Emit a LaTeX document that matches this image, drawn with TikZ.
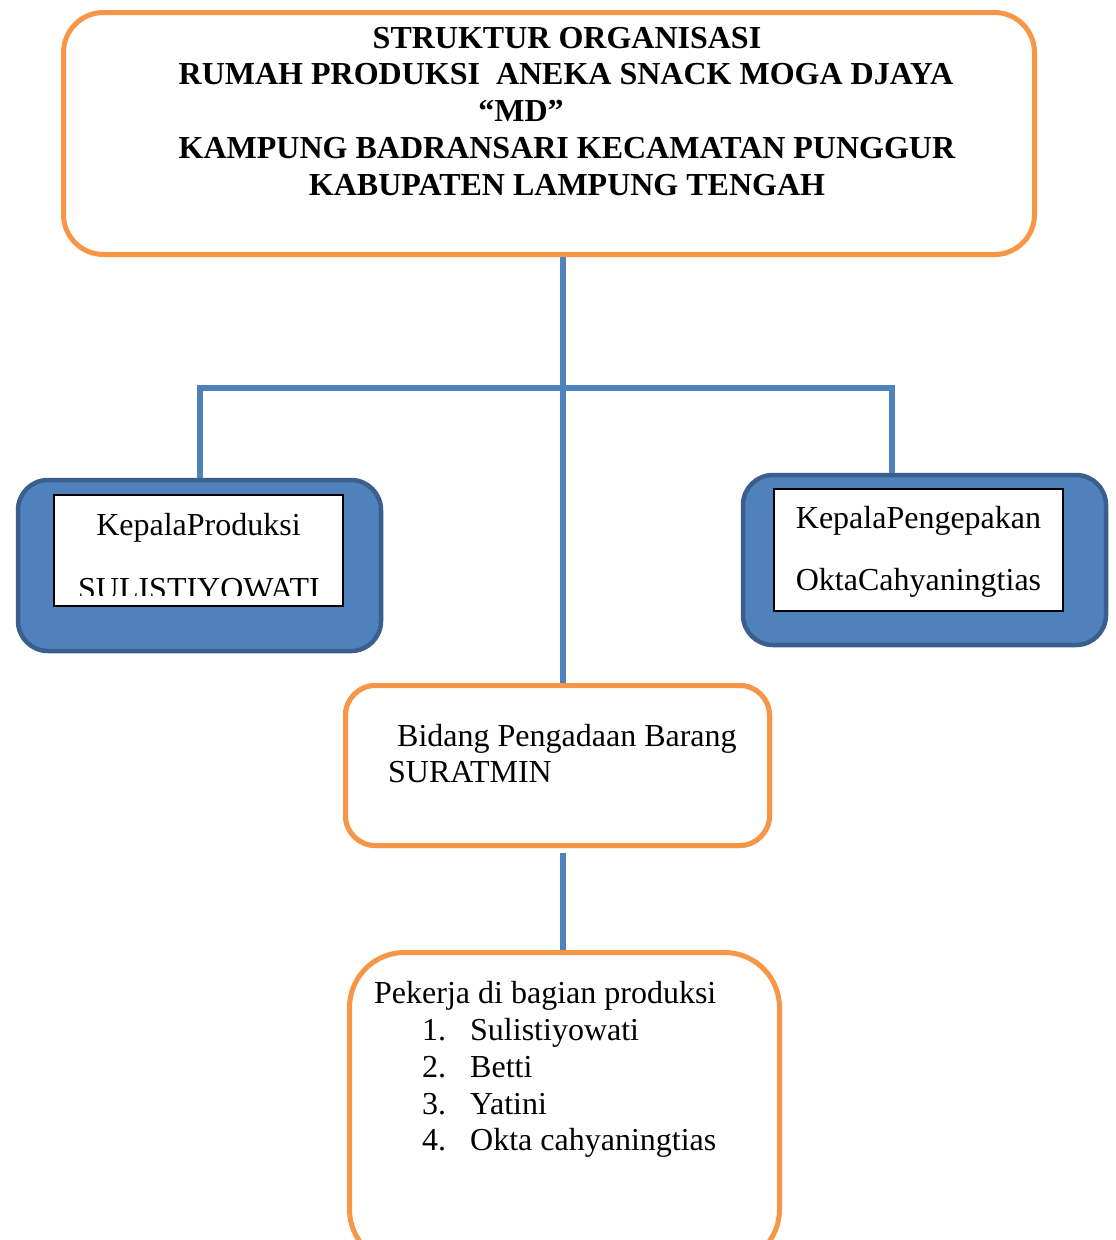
\documentclass[tikz,border=0pt]{standalone}
\usepackage{fontspec}
\setmainfont{Liberation Serif}
\definecolor{orgc}{HTML}{F79646}
\definecolor{bluec}{HTML}{4F81BD}
\definecolor{bluedark}{HTML}{3A5F8C}
\begin{document}
\begin{tikzpicture}[x=1pt,y=-1pt,
  txt/.style={inner sep=0pt, font=\fontsize{32}{37}\selectfont},
  ttl/.style={inner sep=0pt, font=\fontsize{32}{37}\selectfont\bfseries, anchor=base},
  orangebox/.style={draw=orgc, fill=white, line width=5pt, inner sep=0pt},
  bluebox/.style={draw=bluedark, fill=bluec, line width=4.5pt, inner sep=0pt, rounded corners=30pt},
  whitebox/.style={draw=black, fill=white, line width=1.2pt, inner sep=0pt},
  link/.style={draw=bluec, line width=5.5pt}]
\useasboundingbox (0,0) rectangle (1116,1240);
\clip (0,0) rectangle (1116,1240);
\fill[white] (0,0) rectangle (1116,1240);

% junction coordinates
\coordinate (jc) at (563,388);
\coordinate (jl) at (200,388);
\coordinate (jr) at (892,388);

% boxes
\node[orangebox, rounded corners=40pt, minimum width=971pt, minimum height=242pt] (top) at (549,133.5) {};
\node[bluebox, minimum width=363pt, minimum height=171pt] (left) at (199.5,565.5) {};
\node[bluebox, minimum width=363pt, minimum height=170pt] (right) at (924.5,560) {};
\node[orangebox, rounded corners=30pt, minimum width=424pt, minimum height=160pt] (bidang) at (557.5,765.5) {};
\node[orangebox, rounded corners=55pt, minimum width=430pt, minimum height=312pt] (work) at (564.5,1108.5) {};

% connectors
\draw[link] (top.south -| jc) -- (bidang.north -| jc);
\draw[link] (jl |- left.north) -- (jl) -- (jr) -- (jr |- right.north);
\draw[link] ([yshift=-5pt]bidang.south -| jc) -- (work.north -| jc);

% redraw box edge over connector
\node[orangebox, rounded corners=30pt, minimum width=424pt, minimum height=160pt] (bidang2) at (557.5,765.5) {};

% inner white boxes
\node[whitebox, minimum width=289pt, minimum height=111pt] (lin) at (198.5,550.5) {};
\node[whitebox, minimum width=289pt, minimum height=122pt] (rin) at (918.5,550) {};

% title
\node[ttl] (t1) at (567,48) {STRUKTUR ORGANISASI};
\node[ttl] (t2) at (566,84) {RUMAH PRODUKSI\ \ ANEKA SNACK MOGA DJAYA};
\node[ttl] (t3) at (521,121) {“MD”};
\node[ttl] (t4) at (567,158) {KAMPUNG BADRANSARI KECAMATAN PUNGGUR};
\node[ttl] (t5) at (567,195) {KABUPATEN LAMPUNG TENGAH};

% left box text
\node[txt, anchor=base] (l1) at (198.5,535) {KepalaProduksi};
\begin{scope}
\clip (54,495) rectangle (343,595);
\node[txt, anchor=base] (l2) at (199,599) {SULISTIYOWATI};
\end{scope}

% right box text
\node[txt, anchor=base] (r1) at (918.5,528) {KepalaPengepakan};
\node[txt, anchor=base] (r2) at (918.5,590) {OktaCahyaningtias};

% bidang text
\node[txt, anchor=base west] (b1) at (397,746) {Bidang Pengadaan Barang};
\node[txt, anchor=base west] (b2) at (388,782) {SURATMIN};

% workers text
\node[txt, anchor=base west] (w0) at (374,1003) {Pekerja di bagian produksi};
\node[txt, anchor=base west] (n1) at (422,1040) {1.};
\node[txt, anchor=base west] (w1) at (470,1040) {Sulistiyowati};
\node[txt, anchor=base west] (n2) at (422,1077) {2.};
\node[txt, anchor=base west] (w2) at (470,1077) {Betti};
\node[txt, anchor=base west] (n3) at (422,1114) {3.};
\node[txt, anchor=base west] (w3) at (470,1114) {Yatini};
\node[txt, anchor=base west] (n4) at (422,1150) {4.};
\node[txt, anchor=base west] (w4) at (470,1150) {Okta cahyaningtias};
\end{tikzpicture}
\end{document}
